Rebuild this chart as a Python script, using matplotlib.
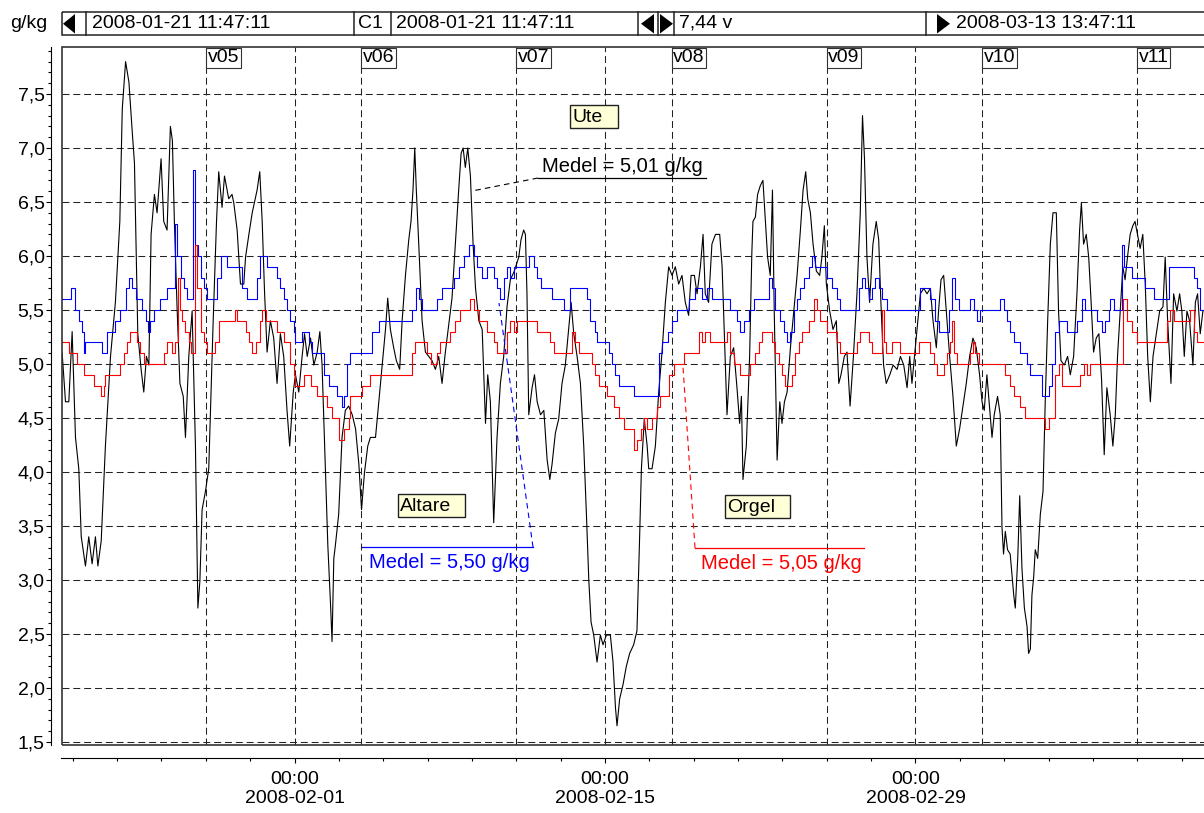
import matplotlib
matplotlib.use('Agg')
import matplotlib.pyplot as plt
import matplotlib.dates as mdates
from matplotlib.patches import Rectangle, Polygon
from matplotlib.ticker import MultipleLocator, FixedLocator, FuncFormatter
import pandas as pd

plt.rcParams['font.family'] = ['Liberation Sans', 'DejaVu Sans']
plt.rcParams['lines.scale_dashes'] = False

start = pd.Timestamp('2008-01-21 11:47:11')
end = pd.Timestamp('2008-03-13 13:47:11')

# (days since start, g/kg)
ute = [(0.03, 5.1), (0.18, 4.65), (0.33, 4.65), (0.48, 5.3), (0.63, 4.32), (0.78, 4.03), (0.89, 3.4),
       (1.08, 3.13), (1.23, 3.4), (1.38, 3.15), (1.53, 3.4), (1.64, 3.13), (1.79, 3.36), (1.98, 4.24),
       (2.21, 5.07), (2.43, 5.57), (2.63, 6.32), (2.74, 7.36), (2.89, 7.8), (3.04, 7.61), (3.19, 7.15),
       (3.29, 6.86), (3.44, 5.28), (3.59, 4.95), (3.71, 4.74), (3.83, 5.07), (3.94, 4.99), (4.04, 6.2),
       (4.19, 6.57), (4.31, 6.4), (4.49, 6.9), (4.61, 6.32), (4.76, 6.24), (4.91, 7.2), (5.00, 7.07),
       (5.09, 6.32), (5.21, 5.53), (5.34, 4.82), (5.49, 4.7), (5.59, 4.32), (5.74, 5.07), (5.89, 5.49),
       (6.04, 4.24), (6.15, 2.74), (6.24, 2.99), (6.34, 3.65), (6.49, 3.82), (6.64, 4.03), (6.84, 5.4),
       (6.99, 6.32), (7.09, 6.78), (7.24, 6.45), (7.35, 6.74), (7.54, 6.53), (7.69, 6.57), (7.77, 6.49),
       (7.92, 6.24), (8.07, 5.74), (8.22, 5.74), (8.30, 5.99), (8.45, 6.2), (8.60, 6.4), (8.82, 6.61),
       (8.94, 6.78), (9.05, 6.32), (9.15, 5.7), (9.27, 5.11), (9.42, 5.4), (9.57, 5.24), (9.72, 4.82),
       (9.87, 5.28), (10.02, 5.07), (10.17, 4.57), (10.29, 4.24), (10.45, 4.74), (10.55, 4.9),
       (10.70, 4.74), (10.85, 5.07), (10.96, 5.28), (11.08, 5.07), (11.23, 5.24), (11.38, 4.99),
       (11.53, 5.11), (11.65, 5.3), (11.75, 4.99), (11.90, 4.03), (12.01, 3.32), (12.13, 2.78),
       (12.20, 2.43), (12.28, 3.2), (12.35, 3.32), (12.50, 3.61), (12.65, 4.32), (12.80, 4.57),
       (12.95, 4.61), (13.11, 4.53), (13.26, 4.4), (13.41, 4.07), (13.53, 3.65), (13.66, 3.99),
       (13.81, 4.24), (13.93, 4.32), (14.16, 4.32), (14.31, 4.65), (14.46, 4.99), (14.61, 5.32),
       (14.71, 5.61), (14.83, 5.32), (14.98, 5.15), (15.10, 5.03), (15.25, 4.95), (15.36, 5.4),
       (15.51, 5.82), (15.66, 6.15), (15.76, 6.32), (15.85, 6.61), (15.93, 7.0), (16.00, 6.61),
       (16.11, 6.11), (16.26, 5.4), (16.41, 5.11), (16.56, 5.07), (16.71, 5.03), (16.86, 4.95),
       (17.01, 5.07), (17.16, 4.82), (17.31, 5.11), (17.46, 5.36), (17.61, 5.61), (17.76, 6.11),
       (17.91, 6.61), (18.02, 6.95), (18.11, 7.0), (18.21, 6.82), (18.32, 7.0), (18.44, 6.74),
       (18.56, 6.11), (18.67, 5.7), (18.82, 5.4), (18.97, 5.32), (19.12, 4.45), (19.22, 4.9),
       (19.34, 4.65), (19.49, 3.53), (19.64, 4.32), (19.79, 4.82), (19.94, 5.07), (20.09, 5.53),
       (20.24, 5.78), (20.42, 5.86), (20.62, 5.99), (20.72, 6.15), (20.84, 6.24), (20.92, 6.2),
       (20.99, 5.65), (21.07, 4.53), (21.22, 4.78), (21.33, 4.9), (21.45, 4.65), (21.60, 4.53),
       (21.75, 4.57), (21.90, 4.11), (22.02, 3.93), (22.12, 4.07), (22.27, 4.36), (22.42, 4.49),
       (22.57, 4.82), (22.72, 4.99), (22.87, 5.32), (22.98, 5.57), (23.10, 5.28), (23.25, 5.07),
       (23.40, 4.82), (23.55, 4.24), (23.67, 3.61), (23.78, 2.99), (23.88, 2.61), (24.00, 2.49),
       (24.15, 2.24), (24.30, 2.49), (24.42, 2.4), (24.57, 2.49), (24.75, 2.49), (24.87, 2.24),
       (24.98, 1.82), (25.05, 1.65), (25.17, 1.9), (25.32, 2.03), (25.47, 2.2), (25.62, 2.32),
       (25.80, 2.4), (25.95, 2.53), (26.07, 3.4), (26.15, 4.03), (26.28, 4.49), (26.41, 4.24),
       (26.48, 4.03), (26.63, 4.03), (26.78, 4.24), (26.93, 4.74), (27.08, 5.11), (27.23, 5.57),
       (27.38, 5.9), (27.53, 5.82), (27.68, 5.9), (27.83, 5.74), (27.98, 5.82), (28.13, 5.57),
       (28.28, 5.45), (28.39, 5.82), (28.54, 5.82), (28.66, 5.65), (28.81, 5.9), (28.93, 6.2),
       (29.03, 5.65), (29.18, 5.57), (29.33, 6.11), (29.49, 6.2), (29.68, 6.2), (29.79, 5.9),
       (29.89, 5.28), (30.01, 4.53), (30.16, 5.07), (30.31, 5.15), (30.46, 4.78), (30.58, 4.45),
       (30.66, 4.7), (30.73, 3.93), (30.88, 4.24), (31.03, 5.07), (31.13, 6.03), (31.18, 6.32),
       (31.29, 6.36), (31.39, 6.57), (31.51, 6.65), (31.63, 6.7), (31.74, 6.32), (31.84, 5.99),
       (31.96, 5.82), (32.06, 6.61), (32.14, 5.49), (32.27, 4.11), (32.39, 4.65), (32.49, 4.45),
       (32.60, 4.65), (32.72, 4.74), (32.87, 5.15), (33.02, 5.49), (33.17, 5.82), (33.32, 6.24),
       (33.44, 6.61), (33.56, 6.78), (33.65, 6.53), (33.77, 6.4), (33.89, 6.11), (34.04, 5.86),
       (34.19, 5.82), (34.29, 5.99), (34.40, 6.28), (34.49, 5.74), (34.64, 5.49), (34.79, 5.32),
       (34.94, 5.4), (35.05, 4.82), (35.15, 4.9), (35.30, 5.07), (35.42, 5.11), (35.56, 4.61),
       (35.71, 5.07), (35.87, 5.65), (36.02, 6.4), (36.12, 7.3), (36.21, 6.9), (36.32, 5.99),
       (36.44, 5.57), (36.59, 6.11), (36.74, 6.32), (36.85, 6.15), (36.95, 5.57), (37.07, 4.99),
       (37.19, 4.82), (37.35, 4.9), (37.50, 4.99), (37.68, 4.95), (37.83, 5.07), (37.98, 4.99),
       (38.13, 4.78), (38.25, 5.07), (38.35, 4.82), (38.50, 5.15), (38.61, 5.4), (38.73, 5.65),
       (38.88, 5.7), (39.03, 5.65), (39.18, 5.7), (39.30, 5.4), (39.45, 5.15), (39.55, 5.49),
       (39.66, 5.78), (39.78, 5.82), (39.90, 5.49), (40.05, 5.07), (40.20, 4.7), (40.35, 4.24),
       (40.50, 4.4), (40.65, 4.61), (40.80, 4.82), (40.95, 5.07), (41.10, 5.24), (41.25, 5.15),
       (41.40, 4.9), (41.51, 4.65), (41.61, 4.57), (41.73, 4.9), (41.86, 4.57), (41.96, 4.32),
       (42.06, 4.53), (42.21, 4.7), (42.33, 4.53), (42.41, 3.49), (42.48, 3.24), (42.56, 3.45),
       (42.66, 3.28), (42.78, 3.24), (42.94, 2.86), (43.01, 2.74), (43.12, 3.2), (43.21, 3.78),
       (43.31, 3.11), (43.42, 2.74), (43.54, 2.57), (43.61, 2.32), (43.69, 2.36), (43.76, 2.86),
       (43.84, 3.03), (43.91, 3.28), (44.02, 3.2), (44.14, 3.61), (44.26, 3.82), (44.36, 4.65),
       (44.47, 5.4), (44.59, 6.11), (44.71, 6.4), (44.86, 6.4), (44.96, 5.49), (45.07, 5.03),
       (45.22, 4.99), (45.37, 5.07), (45.49, 4.9), (45.64, 5.07), (45.79, 5.65), (45.91, 6.24),
       (45.99, 6.49), (46.09, 6.11), (46.21, 6.2), (46.32, 5.99), (46.42, 5.61), (46.54, 5.11),
       (46.66, 5.24), (46.78, 5.28), (46.90, 4.86), (47.02, 4.16), (47.14, 4.78), (47.29, 4.53),
       (47.41, 4.24), (47.52, 4.53), (47.62, 5.07), (47.74, 5.49), (47.86, 5.9), (47.96, 5.78),
       (48.07, 5.99), (48.19, 6.2), (48.31, 6.28), (48.41, 6.32), (48.52, 6.2), (48.64, 6.07),
       (48.76, 6.2), (48.87, 5.74), (48.98, 5.07), (49.10, 4.65), (49.22, 5.07), (49.37, 5.28),
       (49.52, 5.49), (49.67, 5.53), (49.77, 5.99), (49.88, 5.4), (50.03, 4.82), (50.15, 5.65),
       (50.30, 5.49), (50.42, 5.65), (50.52, 5.49), (50.63, 5.07), (50.75, 5.49), (50.87, 5.4),
       (51.02, 4.99), (51.13, 5.57), (51.23, 5.65), (51.35, 5.28), (51.47, 5.49)]

# stepped logger values (value holds from given day until next entry)
altare = [(0.0, 5.6), (0.41, 5.7), (0.59, 5.5), (0.78, 5.4), (0.93, 5.3), (1.01, 5.1), (1.08, 5.2),
          (1.83, 5.1), (2.06, 5.3), (2.43, 5.4), (2.66, 5.5), (2.89, 5.7), (3.04, 5.8), (3.19, 5.7),
          (3.34, 5.6), (3.64, 5.5), (3.79, 5.4), (3.89, 5.3), (4.01, 5.4), (4.16, 5.5), (4.46, 5.6),
          (4.76, 5.7), (5.14, 6.3), (5.21, 6.0), (5.37, 5.8), (5.52, 5.7), (5.67, 5.6), (5.94, 6.8),
          (6.01, 6.1), (6.15, 6.0), (6.27, 5.8), (6.42, 5.7), (6.57, 5.6), (7.02, 5.8), (7.17, 6.0),
          (7.47, 5.9), (8.15, 5.7), (8.37, 5.6), (8.82, 5.8), (8.97, 6.0), (9.27, 5.9), (9.72, 5.8),
          (9.87, 5.7), (10.02, 5.6), (10.17, 5.5), (10.32, 5.4), (10.47, 5.3), (10.55, 5.2),
          (10.85, 5.3), (11.15, 5.2), (11.30, 5.1), (11.83, 4.9), (12.05, 4.8), (12.43, 4.7),
          (12.65, 4.6), (12.73, 4.7), (12.88, 5.0), (13.03, 5.1), (14.00, 5.3), (14.31, 5.4),
          (15.81, 5.5), (16.00, 5.7), (16.11, 5.6), (16.26, 5.5), (16.94, 5.6), (17.16, 5.7),
          (17.69, 5.8), (17.91, 5.9), (18.14, 6.0), (18.36, 6.1), (18.59, 6.0), (18.74, 5.9),
          (18.97, 5.8), (19.19, 5.9), (19.49, 5.8), (19.64, 5.7), (19.79, 5.6), (19.94, 5.8),
          (20.09, 5.9), (20.24, 5.8), (20.39, 5.9), (21.07, 6.0), (21.29, 5.9), (21.45, 5.8),
          (21.60, 5.7), (22.12, 5.6), (22.65, 5.5), (22.95, 5.7), (23.70, 5.6), (23.85, 5.4),
          (24.08, 5.3), (24.15, 5.2), (24.68, 5.1), (24.83, 5.0), (24.98, 4.9), (25.13, 4.8),
          (25.80, 4.7), (26.93, 5.1), (27.08, 5.2), (27.35, 5.3), (27.53, 5.4), (27.76, 5.5),
          (28.28, 5.6), (28.58, 5.7), (28.88, 5.6), (29.11, 5.7), (29.33, 5.6), (30.16, 5.5),
          (30.46, 5.4), (30.61, 5.3), (30.76, 5.4), (30.99, 5.5), (31.21, 5.6), (31.89, 5.8),
          (32.04, 5.7), (32.19, 5.5), (32.42, 5.4), (32.57, 5.3), (32.72, 5.2), (32.87, 5.3),
          (33.02, 5.5), (33.17, 5.6), (33.32, 5.7), (33.47, 5.8), (33.69, 5.9), (33.84, 6.0),
          (33.99, 5.9), (34.52, 5.8), (34.75, 5.7), (34.97, 5.6), (35.12, 5.5), (35.95, 5.7),
          (36.10, 5.8), (36.25, 5.7), (36.40, 5.6), (36.55, 5.7), (36.70, 5.8), (36.85, 5.7),
          (37.00, 5.6), (37.23, 5.5), (38.73, 5.7), (39.18, 5.6), (39.41, 5.4), (39.56, 5.3),
          (40.01, 5.5), (40.16, 5.8), (40.31, 5.6), (40.46, 5.5), (40.98, 5.6), (41.13, 5.5),
          (41.28, 5.4), (41.43, 5.5), (42.33, 5.6), (42.48, 5.5), (42.64, 5.4), (42.78, 5.3),
          (42.94, 5.2), (43.24, 5.1), (43.54, 5.0), (43.69, 4.9), (44.21, 4.7), (44.51, 4.8),
          (44.66, 5.0), (44.81, 5.3), (44.96, 5.4), (45.34, 5.3), (45.79, 5.4), (46.02, 5.6),
          (46.17, 5.5), (46.70, 5.4), (46.92, 5.3), (47.07, 5.4), (47.22, 5.5), (47.30, 5.6),
          (47.45, 5.5), (47.82, 6.1), (47.93, 5.9), (48.27, 5.8), (48.88, 5.7), (49.25, 5.6),
          (49.92, 5.9), (51.05, 5.8), (51.21, 5.7), (51.36, 5.5), (51.51, 5.6)]

orgel = [(0.0, 5.2), (0.33, 5.1), (0.71, 5.0), (1.01, 4.9), (1.46, 4.8), (1.76, 4.7), (1.91, 4.8),
         (1.98, 4.9), (2.66, 5.0), (2.81, 5.1), (2.96, 5.2), (3.11, 5.3), (3.41, 5.2), (3.56, 5.1),
         (3.71, 5.0), (4.61, 5.1), (4.76, 5.2), (4.99, 5.1), (5.14, 5.2), (5.24, 5.8), (5.34, 5.5),
         (5.44, 5.4), (5.59, 5.3), (5.74, 5.2), (5.85, 5.1), (6.00, 6.1), (6.12, 5.7), (6.27, 5.3),
         (6.42, 5.2), (6.57, 5.1), (6.94, 5.2), (7.09, 5.4), (7.84, 5.5), (7.92, 5.4), (8.30, 5.3),
         (8.45, 5.2), (8.60, 5.1), (8.75, 5.2), (8.97, 5.4), (9.05, 5.5), (9.20, 5.4), (9.72, 5.3),
         (10.02, 5.2), (10.32, 5.0), (10.47, 4.9), (10.55, 4.8), (10.93, 4.9), (11.23, 4.8),
         (11.53, 4.7), (11.98, 4.6), (12.20, 4.5), (12.50, 4.3), (12.73, 4.4), (12.95, 4.5),
         (13.03, 4.7), (13.56, 4.8), (13.93, 4.9), (15.81, 5.1), (15.96, 5.2), (16.49, 5.1),
         (16.64, 5.0), (16.94, 5.1), (17.09, 5.2), (17.54, 5.3), (17.76, 5.4), (17.99, 5.5),
         (18.44, 5.6), (18.59, 5.5), (18.82, 5.4), (19.19, 5.3), (19.49, 5.2), (19.64, 5.1),
         (20.09, 5.3), (20.24, 5.4), (20.39, 5.3), (20.54, 5.4), (21.45, 5.3), (22.05, 5.2),
         (22.19, 5.1), (23.02, 5.3), (23.17, 5.2), (23.32, 5.1), (23.93, 5.0), (24.08, 4.9),
         (24.23, 4.8), (24.60, 4.7), (24.90, 4.6), (25.13, 4.5), (25.35, 4.4), (25.80, 4.2),
         (25.95, 4.3), (26.11, 4.4), (26.26, 4.5), (26.41, 4.4), (26.63, 4.5), (26.86, 4.6),
         (27.01, 4.7), (27.38, 4.9), (27.61, 5.0), (28.06, 5.1), (28.73, 5.3), (28.88, 5.2),
         (29.03, 5.3), (29.26, 5.2), (29.99, 5.3), (30.14, 5.1), (30.31, 5.0), (30.61, 4.9),
         (31.06, 5.0), (31.29, 5.1), (31.44, 5.2), (31.59, 5.3), (32.04, 5.2), (32.19, 5.1),
         (32.34, 5.0), (32.49, 4.9), (32.64, 4.8), (32.94, 4.9), (33.09, 5.1), (33.24, 5.2),
         (33.39, 5.3), (33.69, 5.4), (33.92, 5.6), (34.07, 5.5), (34.22, 5.4), (34.52, 5.3),
         (34.97, 5.2), (35.12, 5.1), (35.87, 5.2), (36.02, 5.3), (36.40, 5.2), (36.55, 5.1),
         (37.00, 5.5), (37.11, 5.2), (37.19, 5.1), (37.45, 5.2), (37.83, 5.1), (38.65, 5.2),
         (39.18, 5.1), (39.33, 5.0), (39.48, 4.9), (39.78, 5.0), (39.93, 5.1), (40.08, 5.2),
         (40.16, 5.4), (40.26, 5.1), (40.38, 5.0), (40.98, 5.1), (41.10, 5.2), (41.21, 5.1),
         (41.36, 5.0), (42.56, 4.9), (42.78, 4.8), (42.94, 4.7), (43.24, 4.6), (43.46, 4.5),
         (44.36, 4.4), (44.51, 4.5), (44.81, 4.9), (44.96, 5.0), (45.11, 4.8), (45.94, 4.9),
         (46.09, 5.0), (46.24, 4.9), (46.39, 5.0), (47.86, 5.6), (48.05, 5.4), (48.27, 5.3),
         (48.50, 5.2), (49.85, 5.4), (50.00, 5.5), (50.15, 5.4), (50.90, 5.5), (51.05, 5.3),
         (51.20, 5.2)]

week_labels = ['v05', 'v06', 'v07', 'v08', 'v09', 'v10', 'v11']
week_starts = ['2008-01-28', '2008-02-04', '2008-02-11', '2008-02-18', '2008-02-25',
               '2008-03-03', '2008-03-10']
major_dates = ['2008-02-01', '2008-02-15', '2008-02-29']
medel = {'Ute': '5,01', 'Altare': '5,50', 'Orgel': '5,05'}


def to_time(pairs):
    d = [p[0] for p in pairs]
    v = [p[1] for p in pairs]
    return start + pd.to_timedelta(d, unit='D'), v


W, H = 1204, 813
fig = plt.figure(figsize=(W / 100, H / 100), dpi=100)
ax = fig.add_axes([61.5 / W, 1 - 745 / H, (1216.5 - 61.5) / W, (745 - 47) / H])

t, v = to_time(ute)
ax.plot(t, v, color='black', lw=0.8, zorder=3)
t, v = to_time(altare)
t = list(t) + [end]
v = v + [v[-1]]
ax.step(t, v, where='post', color='#0000ff', lw=0.8, zorder=3)
t, v = to_time(orgel)
t = list(t) + [end]
v = v + [v[-1]]
ax.step(t, v, where='post', color='#ff0000', lw=0.8, zorder=3)

ax.set_xlim(start, end)
ax.set_ylim(1.472, 7.935)

# axes
ax.yaxis.set_major_locator(MultipleLocator(0.5))
ax.yaxis.set_minor_locator(MultipleLocator(0.1))
ax.yaxis.set_major_formatter(FuncFormatter(lambda y, p: f'{y:.1f}'.replace('.', ',')))
ax.xaxis.set_major_locator(FixedLocator(mdates.date2num(pd.to_datetime(major_dates))))
ax.xaxis.set_minor_locator(FixedLocator(mdates.date2num(
    pd.date_range('2008-01-22', '2008-03-14', freq='2D'))))
ax.xaxis.set_major_formatter(mdates.DateFormatter('%H:%M\n%Y-%m-%d'))

for s in ['top', 'right']:
    ax.spines[s].set_visible(False)
ax.spines['left'].set_position(('outward', 7.6))
ax.spines['bottom'].set_position(('outward', 9.4))
ax.spines['left'].set_linewidth(0.8)
ax.spines['bottom'].set_linewidth(0.8)
ax.tick_params(axis='y', which='major', length=3.6, width=0.8, labelsize=14, pad=1)
ax.tick_params(axis='y', which='minor', length=2.2, width=0.8)
ax.tick_params(axis='x', which='major', length=3.6, width=0.8, labelsize=14, pad=6)
ax.tick_params(axis='x', which='minor', length=2.2, width=0.8)
for lab in ax.get_xticklabels():
    lab.set_linespacing(1.15)

ax.add_patch(Rectangle((0, 0), 1, 1, transform=ax.transAxes, fill=False,
                       ec='#333333', lw=1.2, clip_on=False, zorder=5))

dash = (0, (5, 2.8))
ax.grid(which='major', axis='both', color='#222222', lw=0.75, linestyle=dash)
for lbl, d in zip(week_labels, week_starts):
    ax.axvline(pd.Timestamp(d), color='#222222', lw=0.75, linestyle=dash, zorder=1)
    ax.annotate(lbl, xy=(pd.Timestamp(d), 1), xycoords=('data', 'axes fraction'),
                xytext=(1.2, -1.6), textcoords='offset points', ha='left', va='top',
                fontsize=14, zorder=6,
                bbox=dict(boxstyle='square,pad=0.08', fc='white', ec='#333333', lw=0.8))

# overlay in pixel units for the header and annotations
ov = fig.add_axes([0, 0, 1, 1], zorder=10)
ov.set_xlim(0, W)
ov.set_ylim(H, 0)
ov.axis('off')
ov.patch.set_visible(False)

ov.text(10, 23.5, 'g/kg', fontsize=14, va='center', ha='left')
ov.add_patch(Rectangle((62, 12.5), 1160, 22.5, fill=False, ec='#222222', lw=1.1))
for xd in [85.5, 353.5, 391, 638, 657.5, 673.5, 926]:
    ov.plot([xd, xd], [12.5, 35], color='#222222', lw=1.1)
ov.add_patch(Polygon([(75, 14), (75, 33.5), (63, 23.75)], closed=True, fc='black', ec='none'))
ov.add_patch(Polygon([(654, 14), (654, 33.5), (641, 23.75)], closed=True, fc='black', ec='none'))
ov.add_patch(Polygon([(660, 14), (660, 33.5), (673, 23.75)], closed=True, fc='black', ec='none'))
ov.add_patch(Polygon([(937, 14), (937, 33.5), (950, 23.75)], closed=True, fc='black', ec='none'))
hdr = dict(fontsize=14, va='center', ha='left')
ov.text(92, 23.5, '2008-01-21 11:47:11', **hdr)
ov.text(358, 23.5, 'C1', **hdr)
ov.text(396, 23.5, '2008-01-21 11:47:11', **hdr)
ov.text(679, 23.5, '7,44 v', **hdr)
ov.text(956, 23.5, '2008-03-13 13:47:11', **hdr)

# series name boxes
for name, (bx, by, bw) in {'Ute': (570, 105, 48), 'Altare': (398, 494, 67),
                           'Orgel': (725, 495, 65)}.items():
    ov.add_patch(Rectangle((bx, by), bw, 23, fc='#ffffd8', ec='#222222', lw=1.0))
    ov.text(bx + 2, by + 12, name, fontsize=14, va='center', ha='left')

# mean value callouts
lead = (0, (4, 3))
ov.text(622, 166, f"Medel = {medel['Ute']} g/kg", fontsize=14.5, ha='center', va='center',
        color='black')
ov.plot([538, 706], [178, 178], color='black', lw=0.9)
ov.plot([538, 472], [178, 191], color='black', lw=0.8, linestyle=lead)

ov.text(449, 562, f"Medel = {medel['Altare']} g/kg", fontsize=14.5, ha='center', va='center',
        color='#0000ff')
ov.plot([362, 533], [547, 547], color='#0000ff', lw=0.9)
ov.plot([533, 499], [547, 303], color='#0000ff', lw=0.8, linestyle=lead)

ov.text(781, 563, f"Medel = {medel['Orgel']} g/kg", fontsize=14.5, ha='center', va='center',
        color='#ff0000')
ov.plot([695, 864], [548, 548], color='#ff0000', lw=0.9)
ov.plot([695, 683], [548, 367], color='#ff0000', lw=0.8, linestyle=lead)

fig.savefig('out.png', dpi=100)
